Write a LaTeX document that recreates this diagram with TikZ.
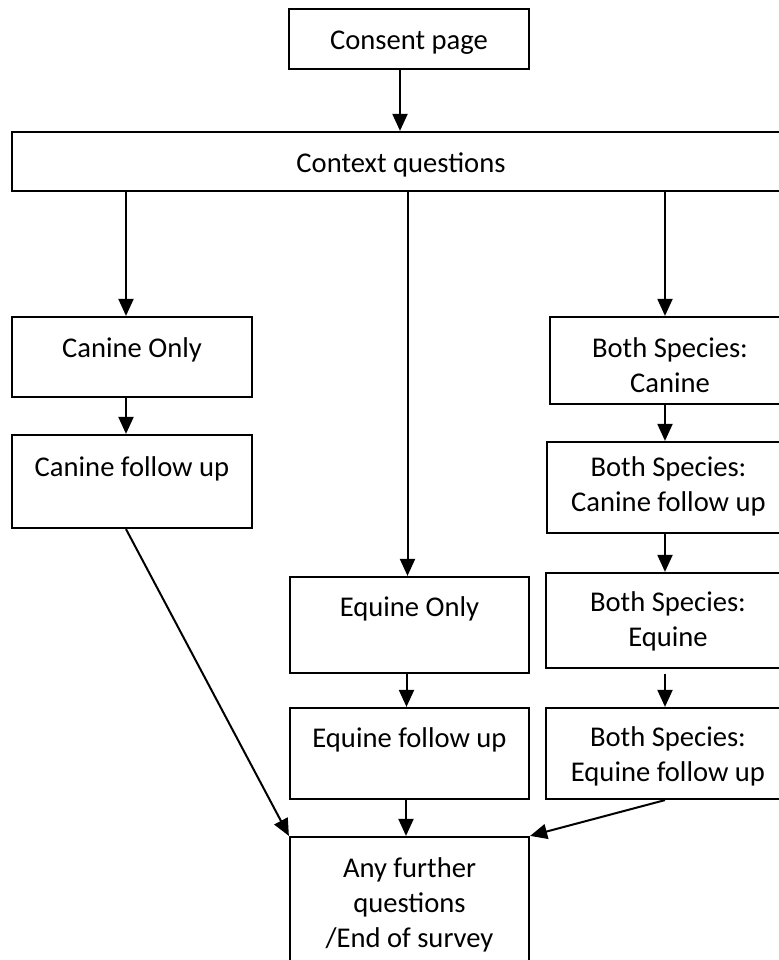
\documentclass[tikz,border=0pt]{standalone}
\usepackage{fontspec}
\setmainfont{Carlito}
\usetikzlibrary{arrows.meta}

\newcommand{\boxlines}[1]{\begin{tabular}[t]{@{}c@{}}#1\end{tabular}}

\begin{document}
\begin{tikzpicture}[x=0.5pt, y=-0.5pt, >={Triangle[length=8.5pt,width=7.5pt]}, line width=1pt,
                every node/.style={
                        rectangle,
                        draw=black,
                        line width=1.1pt,
                        align=center,
                        inner sep=0pt,
                        font=\fontsize{14.3}{17.5}\selectfont}]

                \useasboundingbox (0,0) rectangle (779,960);

                \node[minimum width=120pt, text height=20.3pt, text depth=9.7pt] (consent) at (409, 39) {Consent page};

                \node[minimum width=389pt, text height=20.3pt, text depth=9.2pt] (context) at (401, 161.5) {Context questions};

                % left column
                \node[minimum width=120pt, text height=20.3pt, text depth=19.7pt] (canineonly) at (132, 357) {Canine Only};
                \node[minimum width=120pt, text height=20.8pt, text depth=25.7pt] (caninefu) at (132, 481.5) {Canine follow up};

                % middle column
                \node[minimum width=119.5pt, text height=19.8pt, text depth=28.2pt] (equineonly) at (409.5, 625) {Equine Only};
                \node[minimum width=119.5pt, text height=19.8pt, text depth=25.7pt] (equinefu) at (409.5, 753.5) {Equine follow up};
                \node[minimum width=119.5pt, text height=20.3pt, text depth=44.7pt] (endbox) at (409.5, 902) {\boxlines{Any further\\questions\\/End of survey}};

                % right column
                \node[minimum width=120pt, text height=20.3pt, text depth=23.2pt] (bscanine) at (670, 360.5) {\boxlines{Both Species:\\Canine}};
                \node[minimum width=121.5pt, text height=17.3pt, text depth=28.2pt] (bscaninefu) at (668.5, 487.5) {\boxlines{Both Species:\\Canine follow up}};
                \node[minimum width=122pt, text height=19.3pt, text depth=28.2pt] (bsequine) at (668, 620.5) {\boxlines{Both Species:\\Equine}};
                \node[minimum width=122pt, text height=19.3pt, text depth=26.2pt] (bsequinefu) at (668, 753.5) {\boxlines{Both Species:\\Equine follow up}};

                \draw[->] ([xshift=-4.5pt]consent.south) -- ([xshift=-4.5pt]consent.south |- context.north);

                \draw[->] ([xshift=-3pt]canineonly.north |- context.south) -- ([xshift=-3pt]canineonly.north);
                \draw[->] ([xshift=-1pt]equineonly.north |- context.south) -- ([xshift=-1pt]equineonly.north);
                \draw[->] ([xshift=-2.5pt]bscanine.north |- context.south) -- ([xshift=-2.5pt]bscanine.north);

                \draw[->] ([xshift=-3pt]canineonly.south) -- ([xshift=-3pt]caninefu.north);
                \draw[->] ([xshift=-1.5pt]equineonly.south) -- ([xshift=-1.5pt]equinefu.north);
                \draw[->] ([xshift=-1.75pt]equinefu.south) -- ([xshift=-1.75pt]endbox.north);

                \draw[->] ([xshift=-2.5pt]bscanine.south) -- ([xshift=-2.5pt]bscanine.south |- bscaninefu.north);
                \draw[->] ([xshift=-1.75pt]bscaninefu.south) -- ([xshift=-1.75pt]bscaninefu.south |- bsequine.north);
                \draw[->] ([xshift=-1.5pt,yshift=-2.5pt]bsequine.south) -- ([xshift=-1.5pt]bsequinefu.north);

                \draw[->] ([xshift=-3pt]caninefu.south) -- (endbox.north west);
                \draw[->] ([xshift=-1.5pt]bsequinefu.south) -- (endbox.north east);
            \end{tikzpicture}
\end{document}
